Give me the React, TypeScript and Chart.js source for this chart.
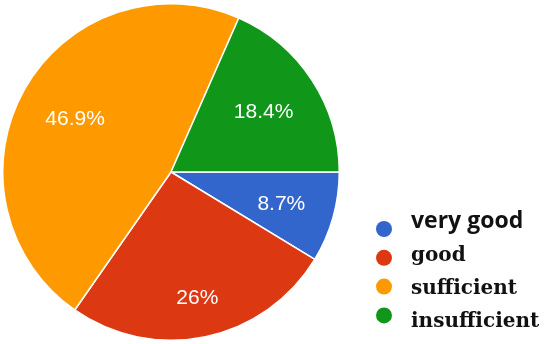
import React, { useEffect, useRef } from "react";
import { Chart, registerables } from "chart.js";

Chart.register(...registerables);

const categories = ["very good", "good", "sufficient", "insufficient"];
const values = [8.7, 26, 46.9, 18.4];
const sliceLabels = ["8.7%", "26%", "46.9%", "18.4%"];
const sliceColors = ["#3366CC", "#DC3912", "#FF9900", "#109618"];

const legendFonts = [
  "bold 23px 'Open Sans'",
  "bold 20px 'DejaVu Serif'",
  "bold 20px 'DejaVu Serif'",
  "bold 20px 'DejaVu Serif'",
];

const sliceLabelPlugin = {
  id: "sliceLabels",
  afterDatasetsDraw(chart: any) {
    const ctx = chart.ctx;
    const meta = chart.getDatasetMeta(0);
    ctx.save();
    ctx.font = "21px 'Liberation Sans', Arial, sans-serif";
    ctx.fillStyle = "#ffffff";
    ctx.textAlign = "center";
    ctx.textBaseline = "middle";
    meta.data.forEach((arc: any, i: number) => {
      const p = arc.getProps(["x", "y", "startAngle", "endAngle", "outerRadius"], true);
      const mid = (p.startAngle + p.endAngle) / 2;
      const text = sliceLabels[i];
      const halfW = ctx.measureText(text).width / 2;
      const halfH = 7.5;
      const c = Math.cos(mid);
      const s = Math.sin(mid);
      const d = p.outerRadius * 0.83 - (halfW * Math.abs(c) + halfH * Math.abs(s));
      ctx.fillText(text, p.x + c * d, p.y + s * d + 1);
    });
    ctx.restore();
  },
};

const legendPlugin = {
  id: "customLegend",
  afterDraw(chart: any) {
    const ctx = chart.ctx;
    ctx.save();
    const cx = 384;
    const cy0 = 229;
    const dotGap = 28.8;
    const textY0 = 228;
    const textGap = 33;
    categories.forEach((label, i) => {
      const cy = cy0 + i * dotGap;
      ctx.beginPath();
      ctx.arc(cx, cy, 8, 0, Math.PI * 2);
      ctx.fillStyle = sliceColors[i];
      ctx.fill();
      ctx.font = legendFonts[i];
      ctx.fillStyle = "#111111";
      ctx.textAlign = "left";
      ctx.textBaseline = "alphabetic";
      ctx.fillText(label, 411, textY0 + i * textGap);
    });
    ctx.restore();
  },
};

export default function App() {
  const ref = useRef<HTMLCanvasElement | null>(null);
  useEffect(() => {
    if (!ref.current) return;
    const chart = new Chart(ref.current, {
      type: "pie",
      data: {
        labels: categories,
        datasets: [
          {
            data: values,
            backgroundColor: sliceColors,
            borderColor: "#ffffff",
            borderWidth: 1.5,
          },
        ],
      },
      options: {
        responsive: false,
        animation: false,
        rotation: 90,
        layout: { padding: { left: 2, top: 3, right: 210, bottom: 3 } },
        plugins: {
          legend: { display: false },
          tooltip: { enabled: false },
        },
      },
      plugins: [sliceLabelPlugin, legendPlugin],
    } as any);
    return () => chart.destroy();
  }, []);
  return (
    <div style={{ position: "absolute", left: 0, top: 0, width: 550, height: 344, background: "#fff" }}>
      <canvas ref={ref} width={550} height={344} />
    </div>
  );
}
